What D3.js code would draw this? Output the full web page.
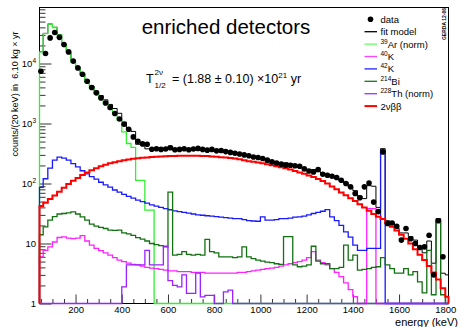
<!DOCTYPE html>
<html><head><meta charset="utf-8">
<script src="https://cdn.jsdelivr.net/npm/d3@7"></script>
<style>
body{margin:0;background:#fff}
svg{display:block}
text{font-family:"Liberation Sans",Arial,Helvetica,sans-serif;fill:#000}
</style>
</head><body>
<script>
// ---- data (20 keV bins starting at 40 keV) ----
const binStart = 40, binWidth = 20;
const dataCounts = [7440,14680,26700,32850,27300,20700,15600,10960,8450,6620,
 5070,3980,3240,2670,2200,1850,1470,1190,973,804,
 598,507,457,452,373,380,370,375,395,365,
 370,380,365,375,385,370,360,370,350,355,
 340,330,320,310,300,290,277,271,261,245,
 229,220,210,202,202,198,194,175,162,156,
 171,143,137,132,126,113,100,88,68,58,
 88,102,49,34,336,21.5,22,19.4,11.4,17.8,
 12,10,8.6,8.8,13.7,3.0,24,6,null];
const fitModel = [15740,31790,45470,40150,30390,20900,15590,11080,8660,6790,
 5285,4227,3477,2926,2477,2078,1778,1480,1057,801,
 738,450,451,378,374,365,365,370,420,365,
 365,367,365,362,362,358,360,350,343,335,
 328,320,310,302,295,282,272,265,258,247,
 236,228,220,222,212,198,188,178,170,170,
 158,148,140,130,120,110,104,88,76,62,
 56,92,90,40,381,24,22,18,15,15,
 13,11.4,8.8,7,11,4.7,26,3.2,3];
const ar39 = [15600,31600,45200,39800,30000,20500,15200,10700,8300,6450,
 4950,3900,3150,2600,2150,1750,1450,1150,724,464,
 400,113,113,36,36,0,0,0,0,0,
 0,0,0,0,0,0,0,0,0,0, 0,0,0,0,0,0,0,0,0,0,
 0,0,0,0,0,0,0,0,0,0, 0,0,0,0,0,0,0,0,0,0,
 0,0,0,0,0,0,0,0,0,0, 0,0,0,0,0,0,0,0,0];
const k40 = [6,7.7,8.8,10.6,12.6,12.9,12.3,12.1,12.3,13.5,
 11,9.4,8.3,7.6,7.0,6.4,5.8,5.3,5.0,4.7,
 4.5,4.4,4.2,4.0,3.9,3.8,3.7,3.6,3.5,3.5,
 3.4,3.4,3.4,3.3,3.3,3.3,3.2,3.2,3.2,3.2,
 3.2,3.2,3.2,3.3,3.3,3.4,3.5,3.6,3.7,3.8,
 3.9,4.0,4.2,4.4,4.6,4.8,5.0,5.3,5.8,7.3,
 5.3,4.8,4.4,3.8,3.3,2.8,2.2,1.7,1.3,0,
 0,38,38,0,0,0,0,0,0,0, 0,0,0,0,0,0,0,0,0];
const k42 = [86,120,180,245,275,265,245,215,190,163,
 145,130,118,105,95,87,78,72,66,61,
 57,53,50,47,44,42,40,38,36.5,35,
 34,33,32,31,30,29.6,29,28.5,28,27.5,
 27,26.5,26,26,25,24,23.7,23.5,27.8,24.5,
 24.5,25,26,26,26.5,27.5,27.8,28.5,30,31.6,
 33,34.5,36.8,27.8,24,20,15.6,12.8,9.4,7.7,
 7.7,8.3,8.3,8.3,350,0,0,0,0,0, 0,0,0,0,0,0,0,0,0];
const bi214 = [14,19,24.5,28,31,31.6,32.3,33.7,31,27.8,
 24.5,21,19.5,18.5,17.8,16.7,16.5,16.7,15,14.5,
 13.7,12.5,11.8,11,10,9.6,9.2,8.8,72,6.4,
 6.6,7.3,6.6,6.4,6.6,6.4,11.7,7.3,7.0,6.0,
 6.0,6.0,5.8,6.0,8.8,6.0,5.6,5.3,5.1,4.9,
 4.8,4.6,4.5,13,13,4.4,4.1,4.2,4.4,9.0,
 5.1,4.6,4.6,3.8,3.8,4.0,9.4,5.3,6.4,3.6,
 3.7,3.8,4.0,4.1,5.8,4.4,3.8,3.2,3.2,3.8,
 3.0,3.4,2.3,1.5,7.7,1.4,23.8,1.4,1];
const th228 = [0,0,0,0,0,0,0,0,0,0, 0,0,0,0,0,0,0,0,
 1.9,4.4,4.4,4.4,4.4,7.7,4.4,4.4,4.4,9.0,2.4,2.0,
 1.9,3.0,1.47,1.47,3.2,1.29,1.37,1.37,0,0,1.56,1.67,
 0,0,0,0,0,0,0,0,0,0, 0,0,0,0,0,0,0,0,0,0,
 0,0,0,0,0,0,0,0,0,0, 0,0,0,0,0,0,0,0,0,0,
 0,0,0,0,0,0,0];
const twoNuBB = [42,48,55,63,73,85,98,111,124,138,
 152,166,180,194,206,217,227,236,245,252,
 258,263,268,272,276,279,282,284,286,288,
 289,290,290,290,289,288,286,283,279,275,
 270,265,260,253,245,236,230,224,217,209,
 201,194,187,179,171,162,153,145,136,128,
 119,110,100,89,80,71,64,57,51,45,
 40,35,31,28,25.5,22,19,16.5,14,12,
 10,8,6.5,5.3,4.2,3.3,2.5,1.8,1.3];
const xTickValues = [200,400,600,800,1000,1200,1400,1600,1800];
const yTickExponents = [0,1,2,3,4];
const legendLabels = [["","data"],["","fit model"],["39","Ar (norm)"],["40","K"],["42","K"],["214","Bi"],["228","Th (norm)"],["","2νββ"]];

// ---- layout ----
const W = 460, H = 327;
const M = {l:39.5, r:448.5, t:7.5, b:303.5};
const x = d3.scaleLinear().domain([44,1814]).range([M.l, M.r]).clamp(true);
const y = d3.scaleLog().domain([1,85800]).range([M.b, M.t]).clamp(true);
const yv = v => (v > 0 ? y(v) : M.b);

const svg = d3.select("body").append("svg").attr("width", W).attr("height", H);

// frame
svg.append("rect").attr("x", M.l).attr("y", M.t).attr("width", M.r - M.l).attr("height", M.b - M.t)
  .attr("fill", "none").attr("stroke", "#000").attr("stroke-width", 1);

// y axis
const yMajor = yTickExponents.map(e => Math.pow(10, e));
const yMinor = [];
yTickExponents.forEach(e => { for (let m = 2; m <= 9; m++) { const v = m * Math.pow(10, e); if (v <= 85800) yMinor.push(v); } });
const yAxG = svg.append("g").attr("transform", `translate(${M.l},0)`)
  .call(d3.axisLeft(y).tickValues(yMajor).tickSize(-12).tickFormat(""));
yAxG.select(".domain").remove();
svg.append("g").attr("transform", `translate(${M.l},0)`)
  .call(d3.axisLeft(y).tickValues(yMinor).tickSize(-6).tickFormat(""))
  .select(".domain").remove();
yTickExponents.forEach(e => {
  const t = svg.append("text").attr("x", 36).attr("y", y(Math.pow(10, e))).attr("dy", "0.35em")
    .attr("text-anchor", "end").attr("font-size", 9.5);
  if (e === 0) t.text("1");
  else if (e === 1) t.text("10");
  else { t.append("tspan").text("10"); t.append("tspan").attr("dy", -4).attr("font-size", 6.5).text(String(e)); }
});

// x axis
const xMinor = d3.range(50, 1801, 50).filter(v => v % 200 !== 0);
const xAxG = svg.append("g").attr("transform", `translate(0,${M.b})`)
  .call(d3.axisBottom(x).tickValues(xTickValues).tickSize(-9).tickPadding(3).tickFormat(d3.format("d")));
xAxG.select(".domain").remove();
xAxG.selectAll("text").attr("font-size", 9.5).attr("font-family", '"Liberation Sans",Arial,sans-serif');
svg.append("g").attr("transform", `translate(0,${M.b})`)
  .call(d3.axisBottom(x).tickValues(xMinor).tickSize(-4.5).tickFormat(""))
  .select(".domain").remove();
svg.selectAll(".tick line").attr("stroke", "#000").attr("stroke-width", 0.8);

// axis titles
svg.append("text").attr("transform", "translate(18,94) rotate(-90)").attr("text-anchor", "middle")
  .attr("font-size", 9).style("white-space", "pre").text("counts/(20 keV) in  6.10 kg × yr");
svg.append("text").attr("x", 458).attr("y", 325.5).attr("text-anchor", "end").attr("font-size", 11).text("energy (keV)");

// histograms
function histPoints(vals) {
  const pts = [[x(binStart), M.b]];
  vals.forEach((v, k) => {
    const lo = binStart + k * binWidth, hi = lo + binWidth;
    pts.push([x(lo), yv(v)]); pts.push([x(hi), yv(v)]);
  });
  pts.push([x(binStart + vals.length * binWidth), M.b]);
  return pts;
}
const line = d3.line();
const series = [
  {vals: fitModel, color: "#000000", w: 1},
  {vals: ar39, color: "#33ee33", w: 1.3},
  {vals: k40, color: "#ff22ff", w: 1.3},
  {vals: k42, color: "#1a1aff", w: 1.3},
  {vals: bi214, color: "#127212", w: 1.3},
  {vals: th228, color: "#9922ff", w: 1.3},
  {vals: twoNuBB, color: "#ff0000", w: 2}
];
series.forEach(s => {
  svg.append("path").attr("d", line(histPoints(s.vals))).attr("fill", "none")
    .attr("stroke", s.color).attr("stroke-width", s.w).attr("stroke-linejoin", "miter");
});

// data points
svg.append("g").selectAll("circle").data(dataCounts.map((v, k) => ({v, k})).filter(d => d.v != null))
  .join("circle").attr("cx", d => x(binStart + (d.k + 0.5) * binWidth)).attr("cy", d => y(d.v))
  .attr("r", 2.8).attr("fill", "#000");

// title + half-life
svg.append("text").attr("x", 226).attr("y", 33.5).attr("text-anchor", "middle").attr("font-size", 20.5).text("enriched detectors");
svg.append("text").attr("x", 146).attr("y", 83).attr("font-size", 12.5).text("T");
svg.append("text").attr("x", 154.5).attr("y", 74.5).attr("font-size", 8).text("2ν");
svg.append("text").attr("x", 154.5).attr("y", 87.5).attr("font-size", 8).text("1/2");
const ft = svg.append("text").attr("x", 172).attr("y", 83).attr("font-size", 12.5);
ft.append("tspan").text("= (1.88 ± 0.10) ×10");
ft.append("tspan").attr("dy", -5).attr("font-size", 8).text("21");
ft.append("tspan").attr("dy", 5).text(" yr");

// legend
const legColors = ["#000", "#000", "#66ff66", "#ff44ff", "#2222ff", "#1a7a1a", "#9933ff", "#ff0000"];
legendLabels.forEach((lab, i) => {
  const cy = 19.3 + 12.4 * i;
  if (i === 0) svg.append("circle").attr("cx", 370.5).attr("cy", cy).attr("r", 2.8).attr("fill", "#000");
  else svg.append("line").attr("x1", 364.5).attr("x2", 377).attr("y1", cy).attr("y2", cy)
    .attr("stroke", legColors[i]).attr("stroke-width", i === 7 ? 2 : 1.3);
  const t = svg.append("text").attr("x", 380.5).attr("y", cy + 3.4).attr("font-size", 9.5);
  if (lab[0]) {
    t.append("tspan").attr("font-size", 6.5).attr("dy", -4).text(lab[0]);
    t.append("tspan").attr("dy", 4).text(lab[1]);
  } else t.text(lab[1]);
});

// GERDA stamp
svg.append("text").attr("transform", "translate(446,24) rotate(-90)").attr("text-anchor", "middle")
  .attr("font-size", 5).attr("font-weight", "bold")
  .text("GERDA 12-06");
</script>
</body></html>
